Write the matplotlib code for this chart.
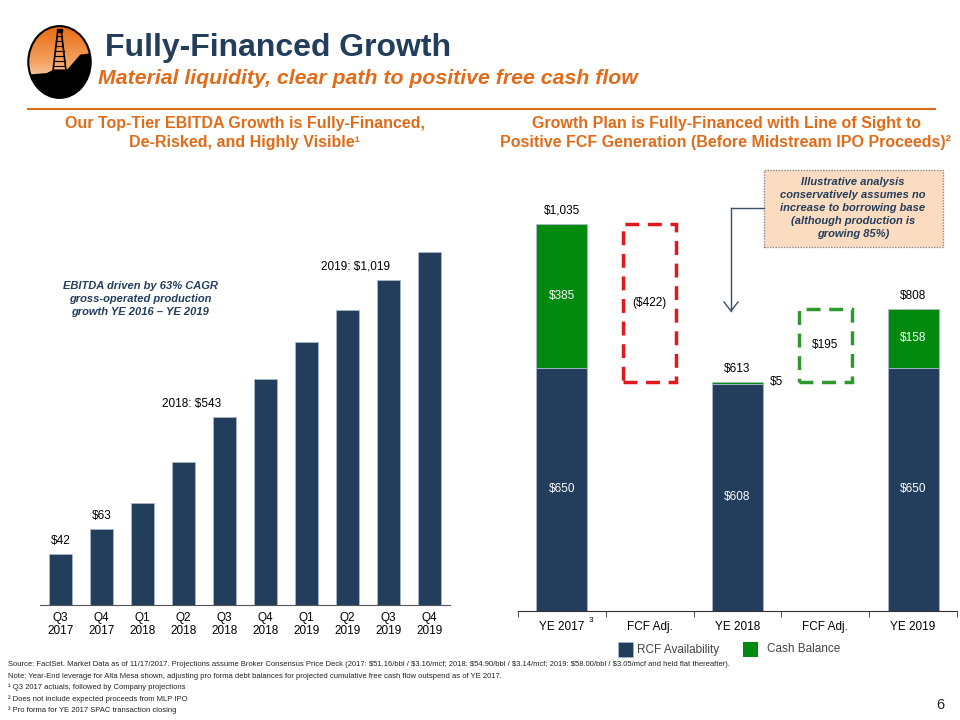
import numpy as np
import matplotlib
matplotlib.use("Agg")
import matplotlib.pyplot as plt
from matplotlib.colors import LinearSegmentedColormap
from matplotlib.patches import Ellipse, Polygon, Rectangle
from matplotlib.lines import Line2D

plt.rcParams["font.family"] = ["Liberation Sans", "DejaVu Sans"]
plt.rcParams["text.parse_math"] = False

# ---- data ----------------------------------------------------------------------------
quarters = ["Q3\n2017", "Q4\n2017", "Q1\n2018", "Q2\n2018", "Q3\n2018",
            "Q4\n2018", "Q1\n2019", "Q2\n2019", "Q3\n2019", "Q4\n2019"]
ebitda = [42, 63, 84, 118, 155, 186, 217, 243, 268, 291]

stages = ["YE 2017", "FCF Adj.", "YE 2018", "FCF Adj.", "YE 2019"]
ye_pos = [0, 2, 4]
rcf_avail = [650, 608, 650]
cash_bal = [385, 5, 158]
adj_pos = [1, 3]
fcf_adj = [-422, 195]

NAVY = "#233d5c"
GREEN = "#018a0e"
ORANGE = "#e06c1a"
RED = "#e0191f"
DGREEN = "#2e9a2e"

W, H = 960, 720
fig = plt.figure(figsize=(9.6, 7.2), dpi=100)


def px(x, y):
    return x / W, 1 - y / H


def axes_px(x0, y0, x1, y1):
    return fig.add_axes([x0 / W, 1 - y1 / H, (x1 - x0) / W, (y1 - y0) / H])


def ftext(x, y, s, **kw):
    fig.text(*px(x, y), s, **kw)


# ---- header --------------------------------------------------------------------------
lg = axes_px(27, 25, 92, 99)
lg.set_xlim(0, 1)
lg.set_ylim(0, 1)
lg.axis("off")
ell = Ellipse((0.5, 0.5), 0.96, 0.97, facecolor="none", edgecolor="black", lw=1.5)
lg.add_patch(ell)
grad = np.linspace(0, 1, 100)[:, None] * np.ones((1, 10))
im = lg.imshow(grad, extent=(0, 1, 0, 1), origin="lower", aspect="auto",
               cmap=LinearSegmentedColormap.from_list("g", ["#ffffff", "#f4a261", "#e86a10"]))
im.set_clip_path(ell)
ground = Polygon([(0, 0), (0, 0.33), (0.3, 0.35), (0.42, 0.4), (0.62, 0.4), (0.82, 0.6),
                  (1, 0.62), (1, 0)], closed=True, facecolor="black")
lg.add_patch(ground)
ground.set_clip_path(ell)
for xa, xb in [(0.4, 0.47), (0.6, 0.53)]:
    lg.add_line(Line2D([xa, xb], [0.38, 0.9], color="black", lw=1.2))
for yy in np.linspace(0.45, 0.85, 7):
    f = (yy - 0.38) / 0.52
    lg.add_line(Line2D([0.4 + 0.07 * f, 0.6 - 0.07 * f], [yy, yy], color="black", lw=0.8))
lg.add_patch(Rectangle((0.455, 0.9), 0.09, 0.05, color="black"))

ftext(105, 48, "Fully-Financed Growth", fontsize=23, fontweight="bold", color=NAVY, va="center")
ftext(98, 79, "Material liquidity, clear path to positive free cash flow", fontsize=15.3,
      fontweight="bold", style="italic", color=ORANGE, va="center")
fig.add_artist(Line2D([28 / W, 935 / W], [1 - 109 / H] * 2, color=ORANGE, lw=1.5))

ftext(245, 133, "Our Top-Tier EBITDA Growth is Fully-Financed,\nDe-Risked, and Highly Visible¹",
      fontsize=11.5, fontweight="bold", color=ORANGE, ha="center", va="center", linespacing=1.4)
ftext(726, 133, "Growth Plan is Fully-Financed with Line of Sight to\n"
      "Positive FCF Generation (Before Midstream IPO Proceeds)²",
      fontsize=11.5, fontweight="bold", color=ORANGE, ha="center", va="center", linespacing=1.4)

# ---- left: quarterly EBITDA ------------------------------------------------------------
ax = axes_px(40, 240, 450, 605)
x = np.arange(len(quarters))
ax.bar(x, ebitda, width=0.56, color=NAVY, edgecolor="#a9b9cc", lw=0.6)
ax.set_xlim(-0.5, len(quarters) - 0.5)
ax.set_ylim(0, 365 / 1.214)
for s in ["top", "right", "left"]:
    ax.spines[s].set_visible(False)
ax.spines["bottom"].set_color("#555555")
ax.set_yticks([])
ax.set_xticks(x)
ax.set_xticklabels(quarters, fontsize=8.5, linespacing=1.15)
ax.tick_params(axis="x", length=0, pad=5)
for i in [0, 1]:
    ax.annotate(f"${ebitda[i]}", (x[i], ebitda[i]), xytext=(0, 5), textcoords="offset points",
                ha="center", va="bottom", fontsize=8.5)
ax.text(3.2, ebitda[4] + 6, f"2018: ${sum(ebitda[2:6])}", ha="center", va="bottom", fontsize=8.5)
ax.text(7.2, ebitda[8] + 6, f"2019: ${sum(ebitda[6:]):,}", ha="center", va="bottom", fontsize=8.5)
ftext(140, 299, "EBITDA driven by 63% CAGR\ngross-operated production\ngrowth YE 2016 – YE 2019",
      fontsize=8, fontweight="bold", style="italic", color=NAVY, ha="center", va="center",
      linespacing=1.35)

# ---- right: liquidity walk -------------------------------------------------------------
bx = axes_px(518, 170, 957, 611)
totals = [r + c for r, c in zip(rcf_avail, cash_bal)]
bx.bar(ye_pos, rcf_avail, width=0.58, color=NAVY, edgecolor="#a9b9cc", lw=0.6)
bx.bar(ye_pos, cash_bal, bottom=rcf_avail, width=0.58, color=GREEN, edgecolor="#a9b9cc", lw=0.6)
for p, adj, col, before in zip(adj_pos, fcf_adj, [RED, DGREEN], totals[:2]):
    lo = min(before, before + adj)
    bx.bar(p, abs(adj), bottom=lo, width=0.6, fill=False, edgecolor=col, lw=2.5,
           ls=(0, (4, 2.5)))
    lab = f"(${abs(adj)})" if adj < 0 else f"${adj}"
    bx.text(p, lo + abs(adj) / 2, lab, ha="center", va="center", fontsize=8.5)
bx.set_xlim(-0.5, 4.5)
bx.set_ylim(0, 441 / 0.374)
for s in ["top", "right", "left"]:
    bx.spines[s].set_visible(False)
bx.spines["bottom"].set_color("#333333")
bx.set_yticks([])
bx.set_xticks(range(len(stages)))
bx.set_xticklabels(stages, fontsize=8.5)
bx.tick_params(axis="x", which="major", length=0, pad=7)
bx.set_xticks(np.arange(-0.5, 5, 1), minor=True)
bx.tick_params(axis="x", which="minor", length=4, color="#333333")
bx.text(0.3, -17, "3", fontsize=6, va="top", ha="left")

for p, r, c, t in zip(ye_pos, rcf_avail, cash_bal, totals):
    bx.text(p, r / 2, f"${r}", ha="center", va="center", color="white", fontsize=8.5)
    bx.annotate(f"${t:,}", (p, t), xytext=(0, 5), textcoords="offset points", ha="center",
                va="bottom", fontsize=8.5)
    if c > 50:
        bx.text(p, r + c / 2, f"${c}", ha="center", va="center", color="white", fontsize=8.5)
    else:
        bx.text(p + 0.37, t, f"${c}", ha="left", va="center", fontsize=8.5)

# callout
fig.add_artist(Rectangle(px(764, 247), 179 / W, 77 / H, facecolor="#fbdcc0",
                         edgecolor="#888888", lw=1, ls=(0, (1, 1))))
ftext(853, 208, "Illustrative analysis\nconservatively assumes no\nincrease to borrowing base\n"
      "(although production is\ngrowing 85%)", fontsize=8, fontweight="bold", style="italic",
      color=NAVY, ha="center", va="center", linespacing=1.38)
fig.add_artist(Line2D([731 / W, 764 / W], [1 - 208 / H] * 2, color="#3b4f6b", lw=1))
fig.add_artist(Line2D([731 / W, 731 / W], [1 - 208 / H, 1 - 311 / H], color="#3b4f6b", lw=1))
fig.add_artist(Line2D([724 / W, 731 / W, 738 / W], [1 - 302 / H, 1 - 311 / H, 1 - 302 / H],
                      color="#3b4f6b", lw=1))

# legend
fig.add_artist(Rectangle(px(618, 657), 15 / W, 15 / H, facecolor=NAVY, edgecolor="#a9b9cc", lw=0.5))
ftext(637, 650, "RCF Availability", fontsize=8.5, color="#444444", va="center")
fig.add_artist(Rectangle(px(743, 657), 15 / W, 15 / H, facecolor=GREEN, edgecolor="none"))
ftext(767, 649, "Cash Balance", fontsize=8.5, color="#444444", va="center")

# ---- footnotes -------------------------------------------------------------------------
notes = [
    "Source: FactSet. Market Data as of 11/17/2017. Projections assume Broker Consensus Price Deck "
    "(2017: $51.16/bbl / $3.16/mcf; 2018: $54.90/bbl / $3.14/mcf; 2019: $58.00/bbl / $3.05/mcf "
    "and held flat thereafter).",
    "Note: Year-End leverage for Alta Mesa shown, adjusting pro forma debt balances for projected "
    "cumulative free cash flow outspend as of YE 2017.",
    "¹ Q3 2017 actuals, followed by Company projections",
    "² Does not include expected proceeds from MLP IPO",
    "³ Pro forma for YE 2017 SPAC transaction closing",
]
for i, n in enumerate(notes):
    ftext(8, 665 + i * 11.3, n, fontsize=5.5, va="center", color="#222222",
          family=["Liberation Sans Narrow", "Liberation Sans", "DejaVu Sans"])
ftext(936, 705, "6", fontsize=10.5, va="center", color="#222222")

fig.savefig("out.png", dpi=100)
